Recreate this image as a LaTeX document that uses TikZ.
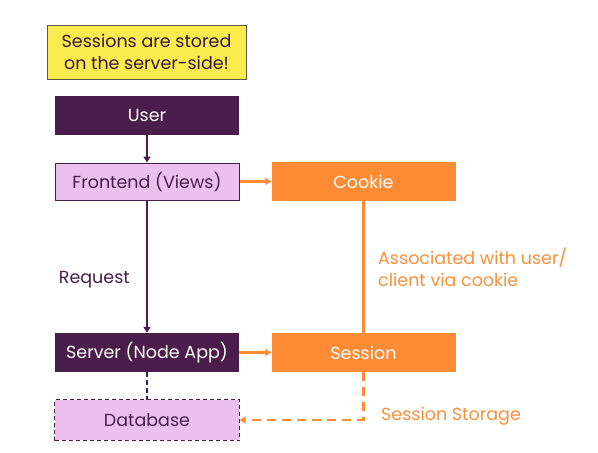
\documentclass[tikz,border=0pt]{standalone}
\usepackage{fontspec}
\setmainfont{Poppins}
\usetikzlibrary{arrows.meta}
\definecolor{plum}{HTML}{4A1D4A}
\definecolor{lilac}{HTML}{ECC0EC}
\definecolor{tangerine}{HTML}{FF8C34}
\definecolor{tangtext}{HTML}{F7913D}
\definecolor{notefill}{HTML}{FAEB4E}
\definecolor{noteline}{HTML}{5C5A45}
\tikzset{
  box/.style={minimum width=184pt, minimum height=39pt, inner sep=0pt, font=\fontsize{17.5}{21}\selectfont},
  darkbox/.style={box, fill=plum, text=white},
  lightbox/.style={box, fill=lilac, draw=plum, line width=1pt, text=plum},
  orangebox/.style={box, fill=tangerine, text=white},
  notebox/.style={box, minimum width=199pt, minimum height=54pt, fill=notefill, draw=noteline, line width=1pt, text=plum!80!black, align=center, font=\fontsize{17.5}{22}\selectfont},
  link/.style={line width=1.8pt, -{Triangle[length=6pt,width=7pt]}},
  purplelink/.style={link, draw=plum},
  orangelink/.style={link, line width=2.4pt, draw=tangerine},
  label/.style={anchor=west, inner sep=0pt, font=\fontsize{17.5}{22}\selectfont, align=left}
}
\begin{document}
\begin{tikzpicture}[x=1pt, y=-1pt]
\useasboundingbox (0,0) rectangle (598,453);
\fill[white] (0,0) rectangle (598,453);

\node[notebox] (note) at (146.5,52) {Sessions are stored\\on the server-side!};
\node[darkbox] (user) at (147,115) {User};
\node[lightbox, minimum height=37pt] (front) at (147,181.5) {Frontend (Views)};
\node[orangebox] (cookie) at (363.5,181.5) {Cookie};
\node[darkbox] (server) at (147,352.5) {Server (Node App)};
\node[orangebox] (session) at (363.5,352.5) {Session};
\node[lightbox, draw=none, minimum height=40pt] (db) at (147,420) {Database};
\draw[plum, line width=1pt, dash pattern=on 4pt off 3pt] (db.south west) rectangle (db.north east);

% client side
\draw[purplelink] (user) -- (front);
\draw[orangelink] (front) -- (cookie);
\draw[purplelink] (front) -- node[label, text=plum, pos=0.6, xshift=-89pt] (req) {Request} (server);
\draw[tangerine, line width=2.4pt] (cookie) -- (session);
\node[label, text=tangtext] (assoc) at (378,267) {Associated with user/\\client via cookie};

% server side
\draw[orangelink] (server) -- (session);
\draw[plum, line width=1.8pt, dash pattern=on 5pt off 3pt] (server) -- (db);
\coordinate (bend) at (session.south |- db.east);
\draw[orangelink, dash pattern=on 9pt off 6pt] (session.south) -- (bend) -- (db.east);
\node[label, text=tangtext] (storage) at (381,416) {Session Storage};
\end{tikzpicture}
\end{document}
